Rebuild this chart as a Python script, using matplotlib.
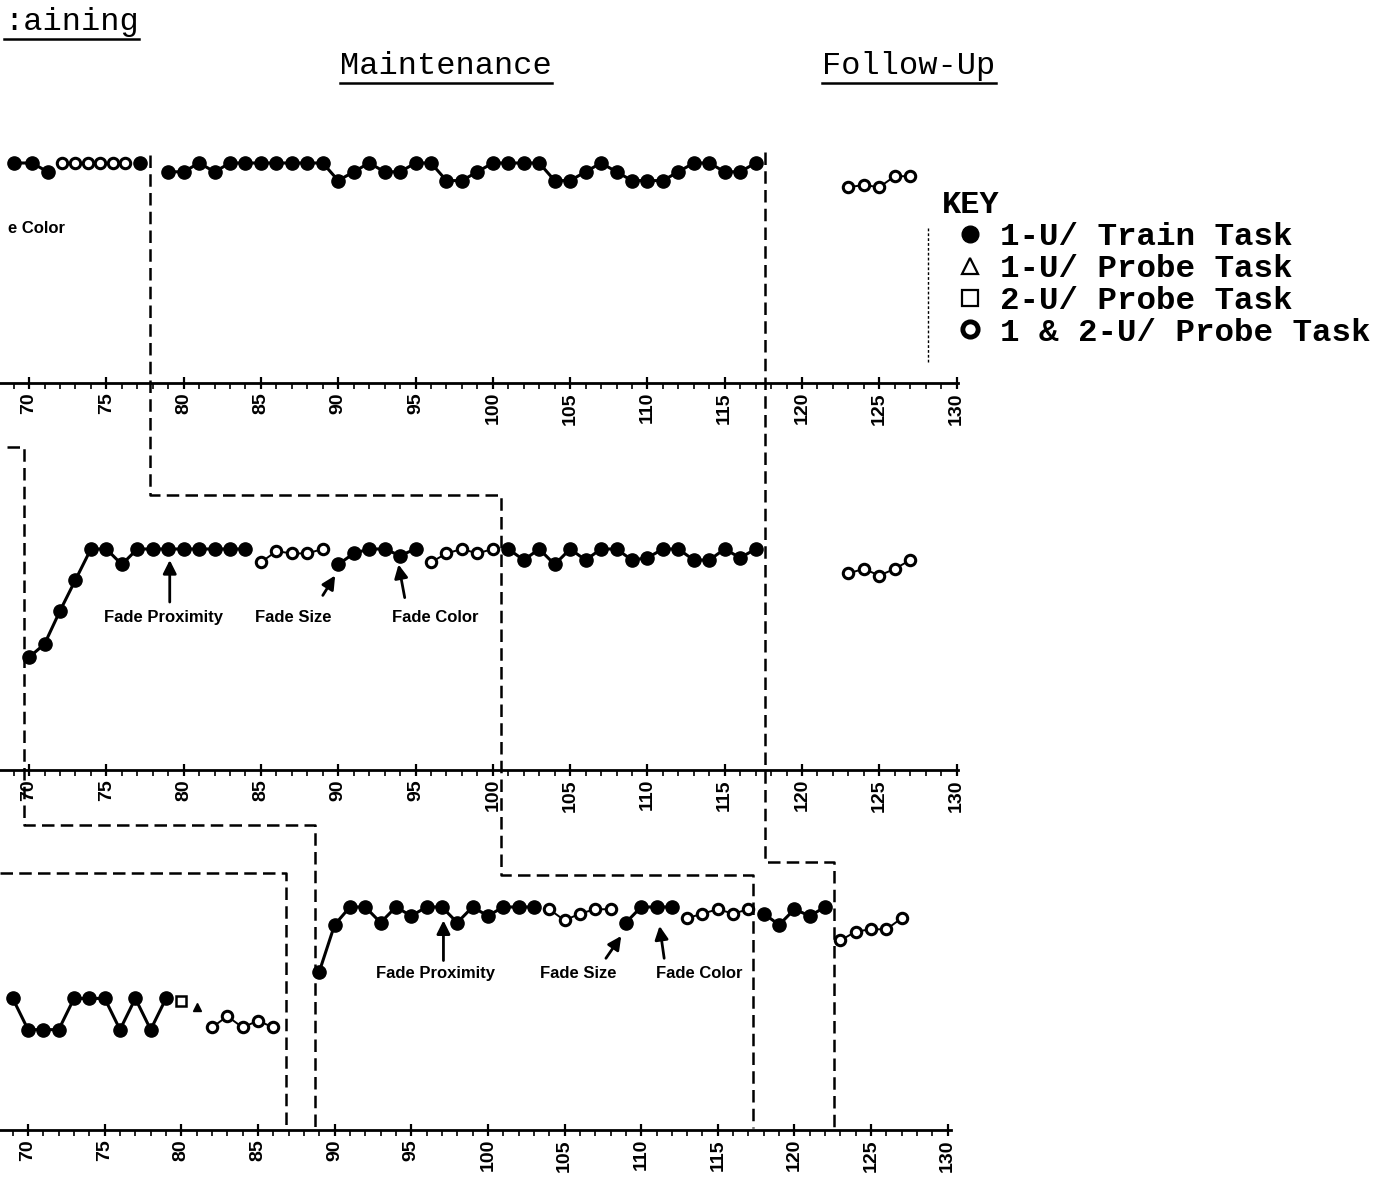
import matplotlib
matplotlib.use("Agg")
import matplotlib.pyplot as plt
from matplotlib.lines import Line2D
from matplotlib.ticker import MultipleLocator
from matplotlib.transforms import blended_transform_factory

# ---------------- data: session number / percent correct ----------------
# top panel
top_base_x = [69.0, 70.2, 71.2]
top_base_y = [100, 100, 96]
top_probe_x = [72.1, 73.0, 73.8, 74.6, 75.4, 76.2]
top_probe_y = [100, 100, 100, 100, 100, 100]
top_base2_x = [77.2]
top_base2_y = [100]
top_maint_x = list(range(79, 118))
top_maint_y = [96, 96, 100, 96, 100, 100, 100, 100, 100, 100, 100, 92, 96,
               100, 96, 96, 100, 100, 92, 92, 96, 100, 100, 100, 100, 92, 92,
               96, 100, 96, 92, 92, 92, 96, 100, 100, 96, 96, 100]
top_follow_x = [123, 124, 125, 126, 127]
top_follow_y = [89, 90, 89, 94, 94]

# middle panel
mid_train1_x = list(range(70, 85))
mid_train1_y = [51, 57, 72, 86, 100, 100, 93, 100, 100, 100, 100, 100, 100, 100, 100]
mid_probe1_x = [85, 86, 87, 88, 89]
mid_probe1_y = [94, 99, 98, 98, 100]
mid_train2_x = [90, 91, 92, 93, 94, 95]
mid_train2_y = [93, 98, 100, 100, 97, 100]
mid_probe2_x = [96, 97, 98, 99, 100]
mid_probe2_y = [94, 98, 100, 98, 100]
mid_maint_x = list(range(101, 118))
mid_maint_y = [100, 95, 100, 93, 100, 95, 100, 100, 95, 96, 100, 100, 95, 95, 100, 96, 100]
mid_follow_x = [123, 124, 125, 126, 127]
mid_follow_y = [89, 91, 88, 91, 95]

# bottom panel
bot_base_x = list(range(69, 80))
bot_base_y = [59, 45, 45, 45, 59, 59, 59, 45, 59, 45, 59]
bot_square_x = [80]
bot_square_y = [58]
bot_tri_x = [81]
bot_tri_y = [55]
bot_probe0_x = [82, 83, 84, 85, 86]
bot_probe0_y = [46, 51, 46, 49, 46]
bot_train1_x = list(range(89, 104))
bot_train1_y = [71, 92, 100, 100, 93, 100, 96, 100, 100, 93, 100, 96, 100, 100, 100]
bot_probe1_x = [104, 105, 106, 107, 108]
bot_probe1_y = [99, 94, 97, 99, 99]
bot_train2_x = [109, 110, 111, 112]
bot_train2_y = [93, 100, 100, 100]
bot_probe2_x = [113, 114, 115, 116, 117]
bot_probe2_y = [95, 97, 99, 97, 99]
bot_maint_x = [118, 119, 120, 121, 122]
bot_maint_y = [97, 92, 99, 96, 100]
bot_follow_x = [123, 124, 125, 126, 127]
bot_follow_y = [85, 89, 90, 90, 95]

ticks = list(range(70, 131, 5))
key_labels = ["1-U/ Train Task", "1-U/ Probe Task", "2-U/ Probe Task", "1 & 2-U/ Probe Task"]

# ---------------- figure ----------------
W, H = 1383, 1179
fig = plt.figure(figsize=(W / 100, H / 100), dpi=100)
fig.patch.set_facecolor("white")


def fy(py):
    return 1 - py / H


sans = "Liberation Sans"
mono = "Liberation Mono"


def make_axes(axis_py, px_per_pct, xlim, right_bound):
    height = 118 * px_per_pct
    ax = fig.add_axes([0, fy(axis_py), 960 / W, height / H])
    ax.set_xlim(*xlim)
    ax.set_ylim(0, 118)
    for s in ["left", "right", "top"]:
        ax.spines[s].set_visible(False)
    ax.spines["bottom"].set_linewidth(2)
    ax.spines["bottom"].set_bounds(xlim[0], right_bound)
    ax.set_yticks([])
    ax.xaxis.set_major_locator(MultipleLocator(5))
    ax.xaxis.set_minor_locator(MultipleLocator(1))
    ax.set_xticks(ticks)
    ax.set_xticklabels([str(t) for t in ticks], rotation=90, fontfamily=sans,
                       fontweight="bold", fontsize=14)
    ax.tick_params(axis="x", which="major", direction="inout", length=9, width=1.6, pad=2)
    ax.tick_params(axis="x", which="minor", direction="out", length=4, width=1.2)
    ax.patch.set_alpha(0)
    return ax


ax_top = make_axes(383, 2.2, (68.12, 130.22), 130.1)
ax_mid = make_axes(770, 2.21, (68.12, 130.22), 130.1)
ax_bot = make_axes(1130, 2.23, (68.17, 130.8), 130.2)


def filled(ax, x, y):
    ax.plot(x, y, "-o", color="black", lw=2.2, ms=9.5, clip_on=False, zorder=3)


def hollow(ax, x, y):
    ax.plot(x, y, "-o", color="black", lw=1.4, ms=7.5, mfc="white", mew=2.2,
            clip_on=False, zorder=3)


filled(ax_top, top_base_x, top_base_y)
hollow(ax_top, top_probe_x, top_probe_y)
filled(ax_top, top_base2_x, top_base2_y)
filled(ax_top, top_maint_x, top_maint_y)
hollow(ax_top, top_follow_x, top_follow_y)

filled(ax_mid, mid_train1_x, mid_train1_y)
hollow(ax_mid, mid_probe1_x, mid_probe1_y)
filled(ax_mid, mid_train2_x, mid_train2_y)
hollow(ax_mid, mid_probe2_x, mid_probe2_y)
filled(ax_mid, mid_maint_x, mid_maint_y)
hollow(ax_mid, mid_follow_x, mid_follow_y)

filled(ax_bot, bot_base_x, bot_base_y)
ax_bot.plot(bot_square_x, bot_square_y, "s", color="black", ms=6.5, mfc="white", mew=1.8)
ax_bot.plot(bot_tri_x, bot_tri_y, "^", color="black", ms=6, mfc="black")
hollow(ax_bot, bot_probe0_x, bot_probe0_y)
filled(ax_bot, bot_train1_x, bot_train1_y)
hollow(ax_bot, bot_probe1_x, bot_probe1_y)
filled(ax_bot, bot_train2_x, bot_train2_y)
hollow(ax_bot, bot_probe2_x, bot_probe2_y)
filled(ax_bot, bot_maint_x, bot_maint_y)
hollow(ax_bot, bot_follow_x, bot_follow_y)

# annotations
note_kw = dict(fontfamily=sans, fontweight="bold", fontsize=12, ha="center", va="center")
arrow = dict(arrowstyle="-|>", color="black", lw=2, mutation_scale=20, shrinkA=0, shrinkB=0)

ax_top.text(68.64, 70, "e Color", fontfamily=sans, fontweight="bold", fontsize=12,
            ha="left", va="center")

ax_mid.annotate("", xy=(79.1, 95), xytext=(79.1, 76), arrowprops=arrow)
ax_mid.text(78.7, 69, "Fade Proximity", **note_kw)
ax_mid.annotate("", xy=(89.8, 88), xytext=(89.0, 79), arrowprops=arrow)
ax_mid.text(87.1, 69, "Fade Size", **note_kw)
ax_mid.annotate("", xy=(93.9, 93), xytext=(94.3, 78), arrowprops=arrow)
ax_mid.text(96.3, 69, "Fade Color", **note_kw)

ax_bot.annotate("", xy=(97.1, 94), xytext=(97.1, 76), arrowprops=arrow)
ax_bot.text(96.6, 70, "Fade Proximity", **note_kw)
ax_bot.annotate("", xy=(108.7, 87), xytext=(107.7, 77), arrowprops=arrow)
ax_bot.text(105.9, 70, "Fade Size", **note_kw)
ax_bot.annotate("", xy=(111.2, 91.5), xytext=(111.5, 77), arrowprops=arrow)
ax_bot.text(113.8, 70, "Fade Color", **note_kw)

# phase-change lines (x in sessions, y in figure pixels)
trans = blended_transform_factory(ax_top.transData, fig.transFigure)
phase_lines = [
    ([77.8, 77.8, 100.5, 100.5, 116.8, 116.8], [155, 495, 495, 875, 875, 1128]),
    ([117.6, 117.6, 122.1, 122.1], [152, 862, 862, 1128]),
    ([68.6, 69.7, 69.7, 88.5, 88.5], [447, 447, 825, 825, 1128]),
    ([68.12, 86.6, 86.6], [873, 873, 1128]),
]
for xs, ys in phase_lines:
    fig.add_artist(Line2D(xs, [fy(v) for v in ys], transform=trans, color="black",
                          lw=1.8, ls=(0, (5, 2.5)), clip_on=False))

# key
fig.add_artist(Line2D([928 / W, 928 / W], [fy(228), fy(362)], color="black",
                      lw=1, ls=(0, (2, 1.5))))
fig.text(942 / W, fy(205), "KEY", fontfamily=mono, fontweight="bold", fontsize=23,
         ha="left", va="center")
handles = [
    Line2D([], [], marker="o", ls="none", color="black", ms=12),
    Line2D([], [], marker="^", ls="none", color="black", mfc="none", ms=11, mew=1.6),
    Line2D([], [], marker="s", ls="none", color="black", mfc="none", ms=11, mew=1.6),
    Line2D([], [], marker="o", ls="none", color="black", mfc="none", ms=11, mew=3.5),
]
fig.legend(handles, key_labels, loc="upper left", bbox_to_anchor=(955 / W, fy(222)),
           frameon=False, prop=dict(family=mono, weight="bold", size=23.4),
           handlelength=0.9, handletextpad=0.5, labelspacing=0.06, borderpad=0,
           borderaxespad=0)

# phase headings with underline
heads = [
    (":aining", 4, 22, "left"),
    ("Maintenance", 446, 66, "center"),
    ("Follow-Up", 909, 66, "center"),
]
head_texts = []
for label, px, py, ha in heads:
    t = fig.text(px / W, fy(py), label, fontfamily=mono, fontsize=23, ha=ha, va="center")
    head_texts.append(t)

fig.canvas.draw()
r = fig.canvas.get_renderer()
for t in head_texts:
    bb = t.get_window_extent(r)
    yline = bb.y0 - 2
    fig.add_artist(Line2D([bb.x0 / W, bb.x1 / W], [yline / H, yline / H],
                          color="black", lw=1.8))

fig.savefig("out.png", dpi=100)
